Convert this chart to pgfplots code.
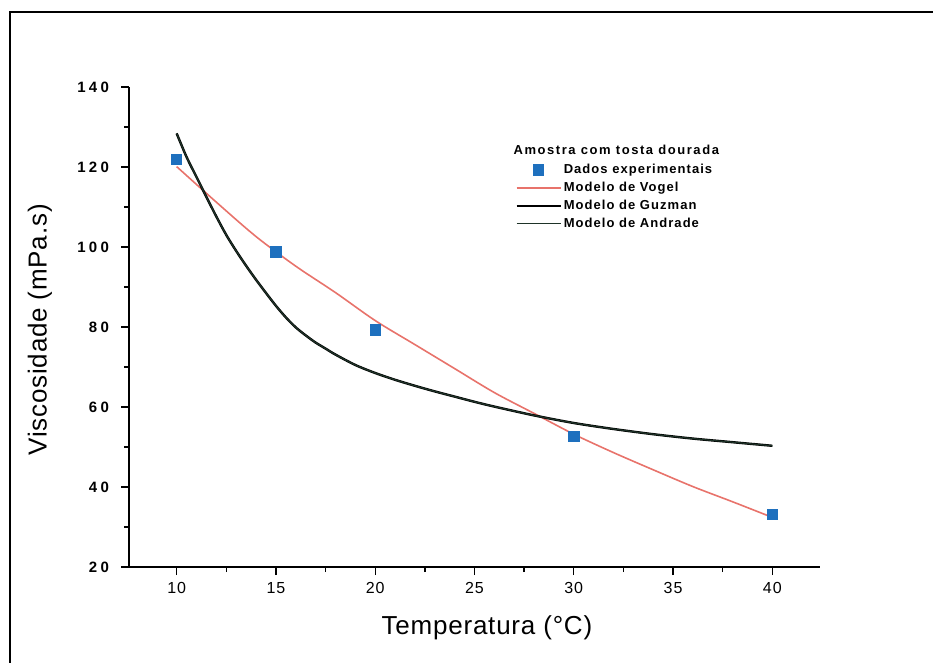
\documentclass[border=0pt]{standalone}
\usepackage{fontspec}
\setmainfont{Liberation Sans}
\usepackage{pgfplots}
\pgfplotsset{compat=1.18}
\definecolor{ptblue}{RGB}{30,112,190}
\definecolor{vogelred}{RGB}{232,115,107}
\definecolor{darkcurve}{RGB}{30,51,40}
\begin{document}
\begin{tikzpicture}
\useasboundingbox (0pt,0pt) rectangle (466.5pt,-331.5pt);
\draw[line width=1.4pt] (5pt,-340pt) -- (5pt,-6pt) -- (470pt,-6pt);
\begin{axis}[
  at={(64.5pt,-283.5pt)}, anchor=south west,
  scale only axis, width=345.5pt, height=240pt,
  xmin=7.6, xmax=42.4, ymin=20, ymax=140,
  axis x line*=bottom, axis y line*=left,
  axis line style={line width=0.9pt},
  xtick={10,15,20,25,30,35,40},
  ytick={20,40,60,80,100,120,140},
  minor x tick num=1, minor y tick num=1,
  tick align=outside,
  major tick length=4pt, minor tick length=2.5pt,
  tick style={black, line width=0.7pt},
  /pgf/number format/assume math mode=true,
  xticklabel style={font=\fontsize{8}{9}\selectfont\addfontfeature{LetterSpace=6}},
  yticklabel style={xshift=-2.5pt, font=\bfseries\fontsize{7.5}{9}\selectfont\addfontfeature{LetterSpace=22}},
  xlabel={Temperatura (°C)},
  ylabel={Viscosidade (mPa.s)},
  label style={font=\fontsize{13}{15}\selectfont\addfontfeature{LetterSpace=3}},
  xlabel style={at={(axis description cs:0.518,-0.127)}, anchor=center},
  ylabel style={at={(axis description cs:-0.129,0.494)}, anchor=center},
  legend style={at={(rel axis cs:0.5586,0.846)}, anchor=north west,
    draw=none, fill=none, inner sep=0pt, row sep=0.5pt,
    font=\bfseries\fontsize{6.5}{7.5}\selectfont\addfontfeature{LetterSpace=8},
    nodes={inner sep=1pt, text height=5pt, text depth=1.5pt}},
  legend cell align=left,
  legend image code/.code={\draw[mark repeat=2,mark phase=2,#1] plot coordinates {(0pt,0pt)(11pt,0pt)(22pt,0pt)};},
]
\addplot[only marks, mark=square*, mark size=2.6pt, color=ptblue] coordinates {
(10,121.9) (15,98.8) (20,79.3) (30,52.6) (40,33.2)};
\addlegendentry{Dados experimentais}
\addplot[color=vogelred, line width=0.8pt, smooth] coordinates {
(10,120.1) (12,111.2) (14,102.6) (16,95.2) (18,88.6) (20,81.6) (22,75.6) (24,69.6)
(26,63.6) (28,58.4) (30,53.2) (32,48.6) (34,44.3) (36,40.1) (38,36.3) (40,32.4)};
\addlegendentry{Modelo de Vogel}
\addplot[color=black, line width=1.2pt, smooth] coordinates {
(10,128.4) (10.5,122.5) (11,117.5) (11.5,112.5) (12,107.6) (12.5,103) (13,99) (13.5,95.3)
(14,91.8) (14.5,88.5) (15,85.3) (15.5,82.4) (16,79.9) (16.5,77.9) (17,76.1) (17.5,74.6)
(18,73.1) (19,70.5) (20,68.5) (21,66.8) (22,65.3) (23,63.9) (24,62.6) (25,61.3)
(26,60.1) (28,57.9) (30,56.0) (32,54.5) (34,53.2) (36,52.1) (38,51.2) (40,50.3)};
\addlegendentry{Modelo de Guzman}
\addplot[color=darkcurve, line width=0.6pt, smooth] coordinates {
(10,128.4) (10.5,122.5) (11,117.5) (11.5,112.5) (12,107.6) (12.5,103) (13,99) (13.5,95.3)
(14,91.8) (14.5,88.5) (15,85.3) (15.5,82.4) (16,79.9) (16.5,77.9) (17,76.1) (17.5,74.6)
(18,73.1) (19,70.5) (20,68.5) (21,66.8) (22,65.3) (23,63.9) (24,62.6) (25,61.3)
(26,60.1) (28,57.9) (30,56.0) (32,54.5) (34,53.2) (36,52.1) (38,51.2) (40,50.3)};
\addlegendentry{Modelo de Andrade}
\node[anchor=west, inner sep=0pt, font=\bfseries\fontsize{6.5}{7.5}\selectfont\addfontfeature{LetterSpace=12}]
  at (rel axis cs:0.556,0.869) {Amostra com tosta dourada};
\end{axis}
\end{tikzpicture}
\end{document}
